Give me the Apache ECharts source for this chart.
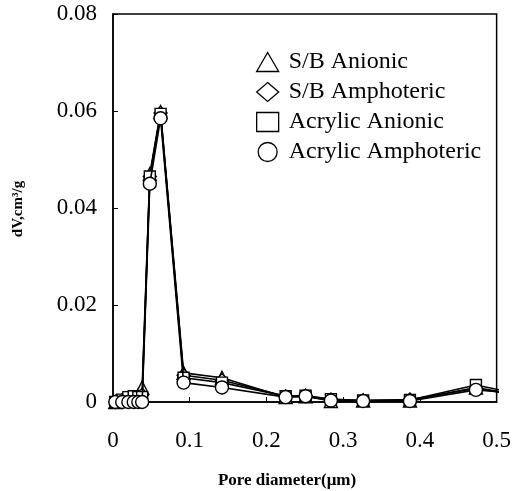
<!DOCTYPE html>
<html><head><meta charset="utf-8">
<script src="https://cdn.jsdelivr.net/npm/echarts@6/dist/echarts.min.js"></script>
<style>html,body{margin:0;padding:0;background:#fff}#c{width:514px;height:491px}</style>
</head><body><div id="c"></div>
<script>
const poreDiameter = [0.003, 0.012, 0.02, 0.027, 0.033, 0.038, 0.048, 0.062, 0.092, 0.142, 0.225, 0.251, 0.284, 0.326, 0.387, 0.473, 0.55];
const sbAnionic = [0, 0.0003, 0.0005, 0.0008, 0.0015, 0.003, 0.047, 0.0598, 0.006, 0.005, 0.001, 0.0012, 0.0002, 0.0003, 0.0003, 0.003, 0.0008];
const sbAmphoteric = [0, 0.0003, 0.0005, 0.0008, 0.001, 0.0015, 0.0465, 0.0596, 0.0055, 0.0045, 0.0012, 0.0013, 0.0005, 0.0003, 0.0005, 0.0028, 0.0008];
const acrylicAnionic = [0, 0.0005, 0.001, 0.0012, 0.001, 0.001, 0.0465, 0.0594, 0.005, 0.004, 0.0012, 0.0013, 0.0006, 0.0003, 0.0004, 0.0035, 0.001];
const acrylicAmphoteric = [0, 0, 0, 0, 0, 0, 0.045, 0.0585, 0.004, 0.003, 0.001, 0.0012, 0.0003, 0.0002, 0.0002, 0.0025, 0.0015];
const seriesNames = ['S/B Anionic', 'S/B Amphoteric', 'Acrylic Anionic', 'Acrylic Amphoteric'];
const seriesSymbols = ['triangle', 'diamond', 'rect', 'circle'];
const seriesValues = [sbAnionic, sbAmphoteric, acrylicAnionic, acrylicAmphoteric];

const serif = '"Liberation Serif","Times New Roman",serif';
const chart = echarts.init(document.getElementById('c'), null, {renderer: 'canvas'});
const series = seriesNames.map((n, i) => ({
  name: n, type: 'line', clip: false,
  data: poreDiameter.map((x, j) => [x, seriesValues[i][j]]),
  symbol: seriesSymbols[i], symbolSize: seriesSymbols[i] === 'circle' ? 13 : (seriesSymbols[i] === 'rect' ? 11 : 13),
  lineStyle: {color: '#000', width: 1.6},
  itemStyle: {color: '#fff', borderColor: '#000', borderWidth: 1.4},
  z: 2 + i
}));
chart.setOption({
  animation: false,
  backgroundColor: '#fff',
  grid: {left: 113, top: 14, width: 386, height: 388, show: true, borderColor: '#000', borderWidth: 1.5},
  legend: {
    orient: 'vertical', left: 251, top: 45, itemGap: 6, itemWidth: 22, itemHeight: 19,
    data: seriesNames.map((n, i) => ({name: n, icon: seriesSymbols[i]})),
    itemStyle: {color: '#fff', borderColor: '#000', borderWidth: 1.3},
    textStyle: {fontFamily: serif, fontSize: 24, color: '#000', padding: [0, 0, 0, 5]}
  },
  xAxis: {
    type: 'value', min: 0, max: 0.5, interval: 0.1,
    axisLine: {show: true, lineStyle: {color: '#000', width: 1.5}},
    axisTick: {show: true, inside: true, length: 5, lineStyle: {color: '#000'}},
    splitLine: {show: false},
    axisLabel: {fontFamily: serif, fontSize: 23, color: '#000', margin: 27,
      formatter: v => v === 0 ? '0' : v.toFixed(1)}
  },
  yAxis: {
    type: 'value', min: 0, max: 0.08, interval: 0.02,
    axisLine: {show: true, lineStyle: {color: '#000', width: 1.5}},
    axisTick: {show: true, inside: true, length: 5, lineStyle: {color: '#000'}},
    splitLine: {show: false},
    axisLabel: {fontFamily: serif, fontSize: 23, color: '#000', margin: 16,
      formatter: v => v === 0 ? '0' : v.toFixed(2)}
  },
  graphic: [
    {type: 'text', x: 18, y: 209, rotation: Math.PI / 2,
      style: {text: 'dV,cm³/g', fontFamily: serif, fontWeight: 'bold', fontSize: 15, fill: '#000', align: 'center', verticalAlign: 'middle'}},
    {type: 'text', x: 287, y: 481,
      style: {text: 'Pore diameter(μm)', fontFamily: serif, fontWeight: 'bold', fontSize: 17, fill: '#000', align: 'center', verticalAlign: 'middle'}}
  ],
  series: series
});
</script></body></html>
